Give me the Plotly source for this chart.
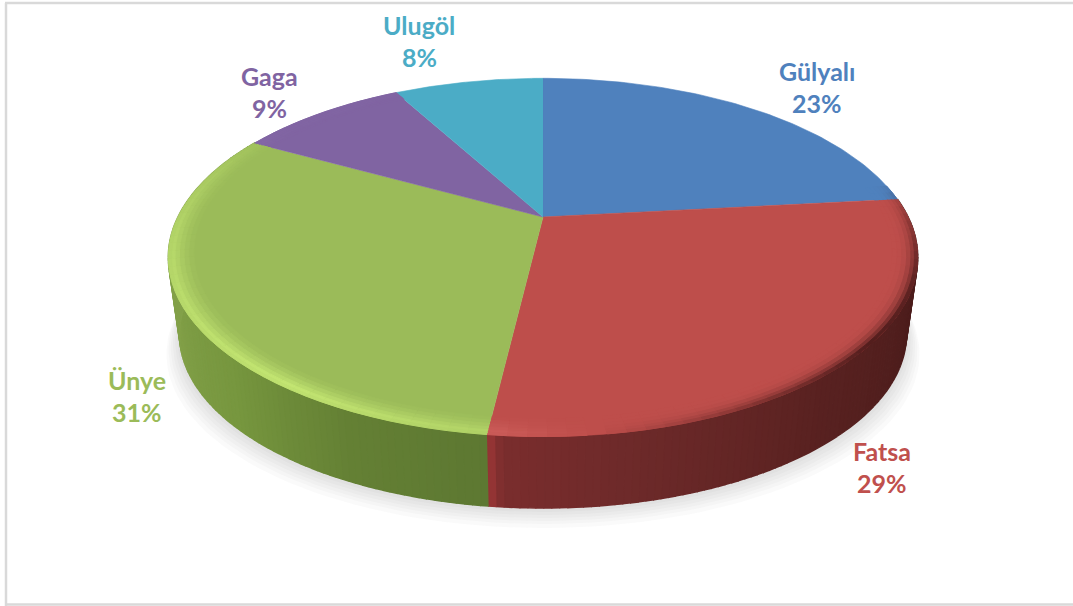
import numpy as np
import plotly.graph_objects as go

# Data
categories = ["Gülyalı", "Fatsa", "Ünye", "Gaga", "Ulugöl"]
values = [23.3, 28.6, 31.1, 9.0, 8.0]

# Styling
face_colors = [(79, 129, 189), (190, 78, 75), (155, 187, 89), (128, 100, 162), (75, 172, 198)]
glow_colors = [(110, 160, 220), (222, 112, 108), (205, 240, 120), (160, 130, 195), (110, 200, 225)]
label_colors = ["#4f81bd", "#c0504d", "#9bbb59", "#8064a2", "#4bacc6"]
label_x = [817, 882, 137, 269, 419]
label_y = [71, 451, 380, 76, 25]
W, H = 1073, 606
CX, CY, R, A, K = 543, 217, 365, 170, 0.2257
SCALE, DROP = 0.97, 78
WALL_T = {1: ([83, 110, 140, 170, 185, 187], [(72, 28, 27), (76, 29, 28), (88, 33, 32), (110, 42, 42), (122, 45, 45), (160, 56, 56)]),
          2: ([187, 205, 225, 250, 298.8], [(93, 120, 50), (100, 128, 52), (118, 150, 62), (130, 160, 72), (134, 165, 78)])}
BEVEL_TH = [0, 78, 90, 110, 130, 150, 178, 187, 215, 265, 285, 305, 360]
BEVEL_L = [0, 0, -0.35, -0.75, -0.85, -0.5, 0.1, 0.45, 0.8, 0.5, 0.3, 0.05, 0]


def proj(th, r=1.0):
    th = np.radians(th)
    x, y = r * np.sin(th), r * np.cos(th)
    d = 1 + K * y
    return CX + R * x / d, CY - A * y / d


def low(th):
    x, y = proj(th)
    return CX + (x - CX) * SCALE, CY + (y - CY) * SCALE + DROP


def rgb(c):
    return "rgb(%d,%d,%d)" % tuple(int(round(v)) for v in c)


def mix(a, b, t):
    return tuple(p + (q - p) * t for p, q in zip(a, b))


fig = go.Figure()


def poly(xs, ys, color, edge=0.0):
    fig.add_trace(go.Scatter(x=xs, y=ys, mode="lines", fill="toself", fillcolor=color,
                             line=dict(color=color if edge else "rgba(0,0,0,0)", width=edge),
                             hoverinfo="skip", showlegend=False))


# soft shadow under the body
ang = np.linspace(0, 360, 181)
for grow, off in [(1.036, 20), (1.030, 16), (1.024, 13), (1.018, 10), (1.012, 7), (1.006, 4)]:
    lx, ly = low(ang)
    poly(CX + (lx - CX) * grow, ly + off, "rgba(110,110,110,0.032)")

# start / end angle of every slice, clockwise from the top
edges = np.concatenate([[0], np.cumsum(values)]) / sum(values) * 360

# side wall
for i, (c0, c1) in enumerate(zip(edges[:-1], edges[1:])):
    if i not in WALL_T:
        continue
    keys, cols = WALL_T[i]
    cols = np.array(cols, float)
    steps = np.linspace(max(c0, 60), c1, int((c1 - max(c0, 60)) / 1.0) + 2)
    for a0, a1 in zip(steps[:-1], steps[1:]):
        mid = (a0 + a1) / 2
        col = [np.interp(mid, keys, cols[:, j]) for j in range(3)]
        tx, ty = proj(np.array([a0, a1]))
        bx, by = low(np.array([a1, a0]))
        poly(list(tx) + list(bx), list(ty) + list(by), rgb(col), 1.6)

# top faces
for i, (c0, c1) in enumerate(zip(edges[:-1], edges[1:])):
    arc = np.linspace(c0, c1, 80)
    x, y = proj(arc)
    poly([CX] + list(x), [CY] + list(y), rgb(face_colors[i]), 0.6)

# bevel along the rim
radii = [0.935, 0.948, 0.96, 0.972, 0.983, 0.992, 1.0]
glow_w = [0.1, 0.28, 0.5, 0.75, 1.0, 0.9]
dark_w = [0.0, 0.02, 0.1, 0.3, 0.6, 1.0]
for i, (c0, c1) in enumerate(zip(edges[:-1], edges[1:])):
    if c1 <= 78 or c0 >= 310:
        continue
    steps = np.linspace(c0, c1, int((c1 - c0) / 2.5) + 2)
    for a0, a1 in zip(steps[:-1], steps[1:]):
        level = np.interp((a0 + a1) / 2, BEVEL_TH, BEVEL_L)
        if abs(level) < 0.02:
            continue
        target = glow_colors[i] if level > 0 else mix(face_colors[i], (50, 15, 15), 0.9)
        weights = glow_w if level > 0 else dark_w
        for (r0, r1), w in zip(zip(radii[:-1], radii[1:]), weights):
            col = mix(face_colors[i], target, min(1, abs(level) * w))
            ax, ay = proj(np.array([a0, a1]), r1)
            bx, by = proj(np.array([a1, a0]), r0)
            poly(list(ax) + list(bx), list(ay) + list(by), rgb(col), 1.0)

# labels
total = sum(values)
for name, v, lx, ly, col in zip(categories, values, label_x, label_y, label_colors):
    for text, dy in ((name, 0), (f"{round(v / total * 100)}%", 32)):
        fig.add_annotation(x=lx, y=ly + dy, text=f"<b>{text}</b>", showarrow=False, xref="x", yref="y",
                           font=dict(family="Lato, Carlito, sans-serif", size=25, color=col))

frame = [dict(x0=6, x1=6, y0=3, y1=606), dict(x0=5, x1=W, y0=3, y1=3), dict(x0=5, x1=W, y0=604.5, y1=604.5)]
for s in frame:
    fig.add_shape(type="line", xref="x", yref="y", line=dict(color="#d9d9d9", width=2.5), **s)

fig.update_layout(width=W, height=H, margin=dict(l=0, r=0, t=0, b=0), paper_bgcolor="white",
                  plot_bgcolor="white", showlegend=False,
                  xaxis=dict(range=[0, W], visible=False, fixedrange=True),
                  yaxis=dict(range=[H, 0], visible=False, fixedrange=True))
fig.write_html("out.html", config={"displayModeBar": False},
               post_script="document.body.style.margin='0';document.body.style.overflow='hidden';")
